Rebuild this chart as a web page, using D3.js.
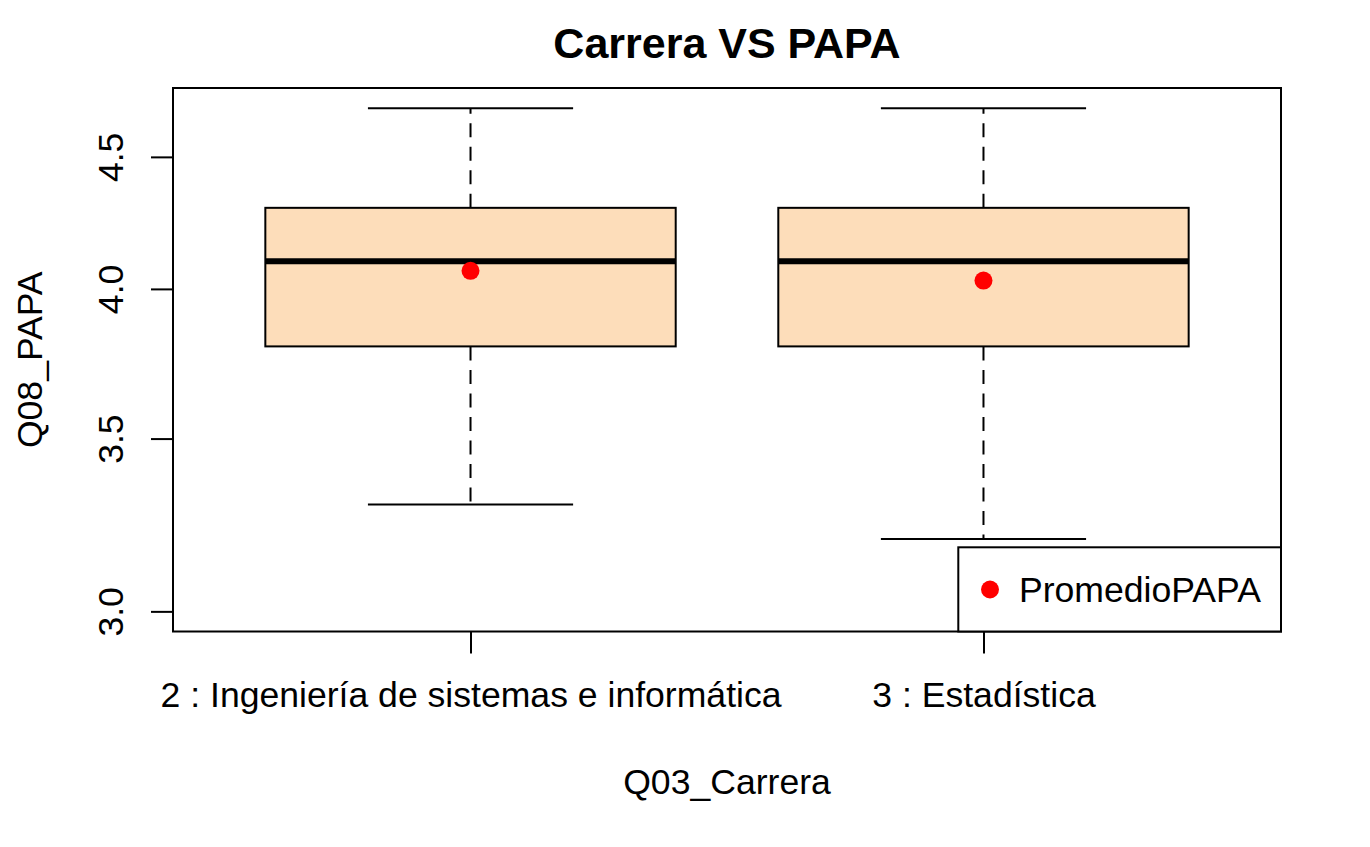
<!DOCTYPE html>
<html>
<head>
<meta charset="utf-8">
<script src="https://cdn.jsdelivr.net/npm/d3@7"></script>
<style>
  html, body { margin: 0; padding: 0; background: #fff; }
  text { font-family: "Liberation Sans", Arial, Helvetica, sans-serif; fill: #000; }
</style>
</head>
<body>
<svg id="chart" width="1370" height="847"></svg>
<script>
// ---- data ----
const categories = ["2 : Ingeniería de sistemas e informática", "3 : Estadística"];
const whiskerLow = [3.3, 3.2];
const q1 = [3.8, 3.8];
const median = [4.1, 4.1];
const q3 = [4.3, 4.3];
const whiskerHigh = [4.7, 4.7];
const meanPAPA = [4.065, 4.03];
const yTicks = [3.0, 3.5, 4.0, 4.5];
const yLimits = [3, 4.7];

const title = "Carrera VS PAPA";
const xTitle = "Q03_Carrera";
const yTitle = "Q08_PAPA";
const legendLabel = "PromedioPAPA";

// ---- layout ----
const svg = d3.select("#chart");
svg.append("rect").attr("width", 1370).attr("height", 847).attr("fill", "#fff");

const plot = { left: 173, right: 1281, top: 88, bottom: 631.5 };
const boxFill = "#FDDDBA";
const baseFont = "35.6px";

// R-style 4% extension on log scale
const lL = Math.log(yLimits[0]), lH = Math.log(yLimits[1]);
const ext = 0.04 * (lH - lL);
const y = d3.scaleLog()
  .domain([Math.exp(lL - ext), Math.exp(lH + ext)])
  .range([plot.bottom, plot.top]);

const n = categories.length;
const xExt = 0.04 * n;
const x = d3.scaleLinear()
  .domain([0.5 - xExt, n + 0.5 + xExt])
  .range([plot.left, plot.right]);

const boxW = x(0.8) - x(0);
const capW = boxW / 2;

const data = categories.map((c, i) => ({
  cat: c, pos: i + 1,
  lo: whiskerLow[i], q1: q1[i], med: median[i], q3: q3[i], hi: whiskerHigh[i], mean: meanPAPA[i]
}));

const g = svg.append("g");

data.forEach(d => {
  const cx = x(d.pos);
  g.append("line").attr("x1", cx).attr("x2", cx).attr("y1", y(d.q3)).attr("y2", y(d.hi))
    .attr("stroke", "#000").attr("stroke-width", 2).attr("stroke-dasharray", "14,9.5");
  g.append("line").attr("x1", cx).attr("x2", cx).attr("y1", y(d.q1)).attr("y2", y(d.lo))
    .attr("stroke", "#000").attr("stroke-width", 2).attr("stroke-dasharray", "14,9.5");
  g.append("line").attr("x1", cx - capW / 2).attr("x2", cx + capW / 2).attr("y1", y(d.hi)).attr("y2", y(d.hi))
    .attr("stroke", "#000").attr("stroke-width", 2);
  g.append("line").attr("x1", cx - capW / 2).attr("x2", cx + capW / 2).attr("y1", y(d.lo)).attr("y2", y(d.lo))
    .attr("stroke", "#000").attr("stroke-width", 2);
  g.append("rect").attr("x", cx - boxW / 2).attr("width", boxW)
    .attr("y", y(d.q3)).attr("height", y(d.q1) - y(d.q3))
    .attr("fill", boxFill).attr("stroke", "#000").attr("stroke-width", 2);
  g.append("line").attr("x1", cx - boxW / 2).attr("x2", cx + boxW / 2).attr("y1", y(d.med)).attr("y2", y(d.med))
    .attr("stroke", "#000").attr("stroke-width", 6);
  g.append("circle").attr("cx", cx).attr("cy", y(d.mean)).attr("r", 9).attr("fill", "#FF0000");
});

// frame
svg.append("rect").attr("x", plot.left).attr("y", plot.top)
  .attr("width", plot.right - plot.left).attr("height", plot.bottom - plot.top)
  .attr("fill", "none").attr("stroke", "#000").attr("stroke-width", 2);

// y axis
const yAxis = svg.append("g").attr("transform", `translate(${plot.left},0)`)
  .call(d3.axisLeft(y).tickValues(yTicks).tickSize(22).tickFormat(d3.format(".1f")));
yAxis.select(".domain").remove();
yAxis.selectAll(".tick line").attr("stroke", "#000").attr("stroke-width", 2);
yAxis.selectAll(".tick text")
  .attr("x", null).attr("dy", null)
  .attr("transform", "translate(-50.5,0) rotate(-90)")
  .attr("text-anchor", "middle")
  .style("font-size", baseFont)
  .style("font-family", '"Liberation Sans", Arial, Helvetica, sans-serif')
  .attr("fill", "#000");

// x axis
const xAxis = svg.append("g").attr("transform", `translate(0,${plot.bottom})`)
  .call(d3.axisBottom(x).tickValues(data.map(d => d.pos)).tickSize(22).tickFormat((d, i) => categories[i]));
xAxis.select(".domain").remove();
xAxis.selectAll(".tick line").attr("stroke", "#000").attr("stroke-width", 2);
xAxis.selectAll(".tick text")
  .attr("y", 75.5).attr("dy", null)
  .attr("text-anchor", "middle")
  .style("font-size", baseFont)
  .style("font-family", '"Liberation Sans", Arial, Helvetica, sans-serif')
  .attr("fill", "#000");

// titles
svg.append("text").attr("x", (plot.left + plot.right) / 2).attr("y", 58)
  .attr("text-anchor", "middle").style("font-size", "43px").style("font-weight", "bold").text(title);
svg.append("text").attr("x", (plot.left + plot.right) / 2).attr("y", 794)
  .attr("text-anchor", "middle").style("font-size", baseFont).text(xTitle);
svg.append("text").attr("transform", `translate(41.5,${(plot.top + plot.bottom) / 2}) rotate(-90)`)
  .attr("text-anchor", "middle").style("font-size", baseFont).text(yTitle);

// legend
const lg = svg.append("g");
lg.append("rect").attr("x", 958.3).attr("y", 547.3)
  .attr("width", plot.right - 958.3).attr("height", plot.bottom - 547.3)
  .attr("fill", "#fff").attr("stroke", "#000").attr("stroke-width", 2);
lg.append("circle").attr("cx", 990).attr("cy", 589.5).attr("r", 9).attr("fill", "#FF0000");
lg.append("text").attr("x", 1019).attr("y", 601.5).style("font-size", baseFont).text(legendLabel);
</script>
</body>
</html>
